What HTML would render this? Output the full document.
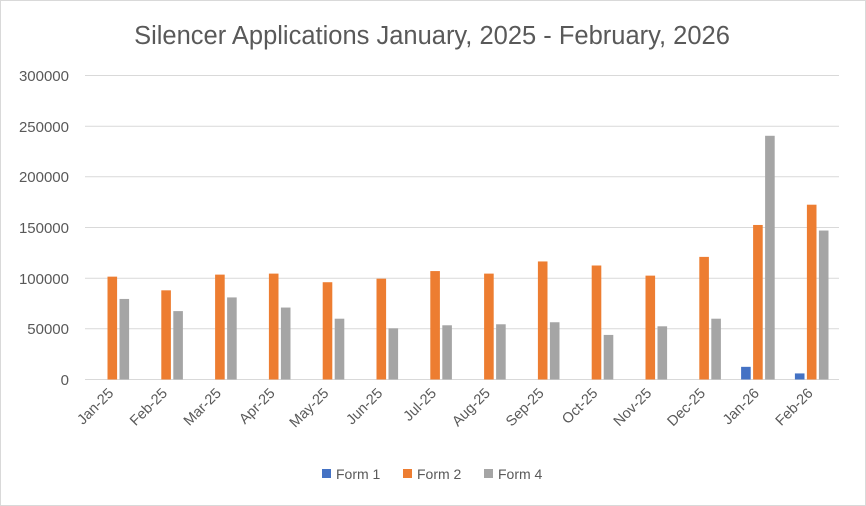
<!DOCTYPE html>
<html><head><style>body{margin:0;background:#fff}svg{display:block;font-family:"Liberation Sans",sans-serif}</style></head><body>
<svg width="866" height="506" viewBox="0 0 866 506">
<rect x="0.5" y="0.5" width="865" height="505" fill="#fff" stroke="#d9d9d9"/>
<text x="432" y="44" font-size="25.5" fill="#595959" text-anchor="middle">Silencer Applications January, 2025 - February, 2026</text>
<g stroke="#d9d9d9" stroke-width="1">
<line x1="85" x2="839" y1="75.5" y2="75.5"/><line x1="85" x2="839" y1="126.2" y2="126.2"/><line x1="85" x2="839" y1="176.8" y2="176.8"/><line x1="85" x2="839" y1="227.5" y2="227.5"/><line x1="85" x2="839" y1="278.2" y2="278.2"/><line x1="85" x2="839" y1="328.8" y2="328.8"/><line x1="85" x2="839" y1="379.5" y2="379.5"/>
</g>
<g font-size="15" fill="#595959" text-anchor="end">
<text x="69" y="81">300000</text><text x="69" y="132">250000</text><text x="69" y="182">200000</text><text x="69" y="233">150000</text><text x="69" y="284">100000</text><text x="69" y="334">50000</text><text x="69" y="385">0</text>
</g>
<g id="bars"></g>
<g id="labels" font-size="14.5" fill="#595959" text-anchor="end"></g>
<g font-size="14" fill="#595959">
<rect x="322" y="469" width="9" height="9" fill="#4472c4"/><text x="336" y="479">Form 1</text>
<rect x="403" y="469" width="9" height="9" fill="#ed7d31"/><text x="417" y="479">Form 2</text>
<rect x="484" y="469" width="9" height="9" fill="#a5a5a5"/><text x="498" y="479">Form 4</text>
</g>
<script>
var f1=[0,0,0,0,0,0,0,0,0,0,0,0,12500,6000];
var f2=[101500,88000,103500,104500,96000,99500,107000,104500,116500,112500,102500,121000,152500,172500];
var f4=[79500,67500,81000,71000,60000,50500,53500,54500,56500,44000,52500,60000,240500,147000];
var lab=["Jan-25","Feb-25","Mar-25","Apr-25","May-25","Jun-25","Jul-25","Aug-25","Sep-25","Oct-25","Nov-25","Dec-25","Jan-26","Feb-26"];
var ns="http://www.w3.org/2000/svg",b=document.getElementById("bars"),l=document.getElementById("labels");
function r(x,v,c){if(!v)return;var h=v/300000*304,e=document.createElementNS(ns,"rect");e.setAttribute("x",x);e.setAttribute("y",379.5-h);e.setAttribute("width",9.6);e.setAttribute("height",h);e.setAttribute("fill",c);b.appendChild(e);}
for(var i=0;i<14;i++){var c=112.3+i*53.8;r(c-16.8,f1[i],"#4472c4");r(c-4.8,f2[i],"#ed7d31");r(c+7.2,f4[i],"#a5a5a5");
var t=document.createElementNS(ns,"text");t.setAttribute("transform","translate("+(c+2)+",394) rotate(-45)");t.textContent=lab[i];l.appendChild(t);}
</script>
</svg>
</body></html>
